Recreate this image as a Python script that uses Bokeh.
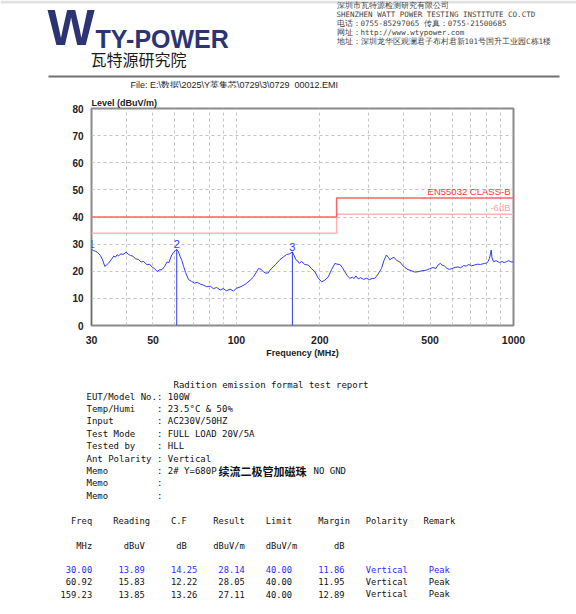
from bokeh.plotting import figure
from bokeh.models import Label, FixedTicker, BoxAnnotation
from bokeh.core.properties import value
from bokeh.embed import file_html
from bokeh.resources import INLINE

# ---------------- data ----------------
freq_mhz = [
    30.0, 30.5, 31.0, 31.6, 32.3, 32.9, 33.5, 34.0, 34.6, 35.3,
    36.1, 36.6, 37.1, 37.6, 38.3, 39.0, 40.0, 40.7, 41.5, 42.3,
    43.2, 44.4, 45.3, 46.2, 47.6, 48.6, 49.7, 50.7, 51.7, 52.8,
    53.9, 55.0, 56.2, 57.1, 58.2, 59.3, 60.3, 60.92, 61.8, 62.7,
    63.6, 64.5, 65.6, 67.2, 68.8, 70.6, 72.2, 74.0, 76.0, 78.2,
    80.5, 82.6, 84.9, 87.4, 89.7, 92.0, 94.9, 97.5, 100.0, 103.2,
    106.5, 109.0, 112.1, 115.0, 118.0, 120.1, 122.5, 125.2, 127.8, 130.4,
    132.2, 134.2, 138.5, 143.7, 147.5, 151.9, 155.5, 159.23, 161.8, 164.1,
    166.5, 168.7, 172.0, 176.5, 181.7, 186.5, 192.1, 197.0, 203.1, 208.5,
    214.5, 220.5, 226.7, 231.0, 236.3, 241.0, 246.3, 251.0, 256.8, 262.0,
    266.0, 270.0, 275.0, 281.0, 288.0, 294.8, 302.0, 309.0, 315.8, 323.0,
    333.8, 341.0, 348.0, 353.0, 358.0, 364.0, 371.0, 379.0, 389.0, 397.0,
    405.0, 416.0, 428.0, 440.0, 452.0, 468.0, 485.0, 498.0, 512.0, 525.0,
    535.0, 545.0, 552.0, 564.0, 576.0, 588.0, 600.0, 615.0, 630.0, 645.0,
    660.0, 675.0, 690.0, 705.0, 724.0, 740.0, 760.0, 786.0, 800.0, 808.0,
    818.0, 826.0, 831.0, 836.0, 847.0, 865.0, 890.0, 910.0, 925.0, 941.0,
    960.0, 980.0, 1000.0,
]
level_dbuv = [
    28.1, 27.6, 27.4, 26.9, 25.8, 24.2, 21.8, 22.3, 23.0, 24.2,
    25.6, 25.2, 26.1, 25.7, 26.4, 26.2, 27.0, 26.3, 25.8, 25.6,
    24.6, 24.3, 23.4, 23.6, 22.4, 22.6, 21.5, 21.0, 19.9, 20.5,
    20.6, 21.7, 23.4, 23.2, 25.6, 27.0, 27.7, 28.05, 27.1, 25.4,
    23.9, 21.8, 19.5, 16.9, 16.3, 15.6, 15.9, 15.3, 14.9, 14.3,
    14.5, 13.6, 14.0, 13.1, 13.6, 12.8, 13.4, 12.7, 13.7, 14.2,
    14.9, 15.6, 16.7, 17.8, 19.6, 21.0, 20.8, 19.8, 19.3, 19.4,
    20.4, 21.1, 22.5, 24.3, 25.2, 26.2, 26.4, 27.11, 25.6, 24.2,
    23.8, 22.9, 23.6, 22.5, 22.3, 21.0, 19.8, 17.6, 16.1, 16.7,
    17.9, 20.6, 22.9, 22.6, 22.5, 21.4, 19.8, 18.4, 17.4, 17.8,
    17.3, 18.3, 17.2, 17.6, 17.0, 17.4, 16.9, 17.3, 17.4, 18.6,
    21.0, 24.0, 26.0, 25.2, 24.2, 24.8, 25.1, 24.0, 23.4, 22.3,
    21.4, 20.6, 20.2, 19.7, 19.8, 20.2, 20.4, 20.9, 21.4, 21.0,
    22.4, 22.9, 22.3, 21.9, 21.0, 20.7, 21.0, 21.4, 21.6, 21.3,
    22.1, 21.9, 22.5, 22.0, 22.3, 22.6, 22.5, 22.9, 23.0, 23.5,
    24.6, 26.4, 27.8, 25.0, 23.5, 23.9, 23.2, 23.6, 23.2, 23.5,
    23.9, 23.4, 23.5,
]
assert len(freq_mhz) == len(level_dbuv)

limit_freq = [30, 230, 230, 1000]
limit_level = [40, 40, 47, 47]
margin_db = 6
limit_name = "EN55032 CLASS-B"
margin_name = "-6dB"

marker_freq = [30.00, 60.92, 159.23]
marker_level = [28.14, 28.05, 27.11]
marker_id = ["1", "2", "3"]

x_ticks = [30, 40, 50, 60, 70, 80, 90, 100, 200, 300, 400, 500, 600, 700, 800, 900, 1000]
x_tick_labels = {30: "30", 50: "50", 100: "100", 200: "200", 500: "500", 1000: "1000"}
y_ticks = [0, 10, 20, 30, 40, 50, 60, 70, 80]

header_lines = [
    "深圳市瓦特源检测研究有限公司",
    "SHENZHEN WATT POWER TESTING INSTITUTE CO.CTD",
    "电话：0755-85297065  传真：0755-21500685",
    "网址：http://www.wtypower.com",
    "地址：深圳龙华区观澜君子布村君新101号国升工业园C栋1楼",
]
file_text = "File: E:\\数据\\2025\\Y英集芯\\0729\\3\\0729_00012.EMI"
report_title = "Radition emission formal test report"
info_labels = ["EUT/Model No.", "Temp/Humi", "Input", "Test Mode", "Tested by",
               "Ant Polarity", "Memo", "Memo", "Memo"]
memo_parts = ["2# Y=680P", "续流二极管加磁珠", "NO GND"]
info_values = ["100W", "23.5°C & 50%", "AC230V/50HZ", "FULL LOAD 20V/5A", "HLL",
               "Vertical", " ".join(memo_parts), "", ""]

t_head = ["Freq", "Reading", "C.F", "Result", "Limit", "Margin", "Polarity", "Remark"]
t_units = ["MHz", "dBuV", "dB", "dBuV/m", "dBuV/m", "dB", "", ""]
t_freq = ["30.00", "60.92", "159.23"]
t_reading = ["13.89", "15.83", "13.85"]
t_cf = ["14.25", "12.22", "13.26"]
t_result = ["28.14", "28.05", "27.11"]
t_limit = ["40.00", "40.00", "40.00"]
t_margin = ["11.86", "11.95", "12.89"]
t_pol = ["Vertical", "Vertical", "Vertical"]
t_remark = ["Peak", "Peak", "Peak"]

# ---------------- styling ----------------
BLUE = "#2f3cf2"
SANS = "Liberation Sans"
MONO = "DejaVu Sans Mono"
W = 576
H_HEAD = 88
H_CHART = 272   # page y 88 .. 360
H_TEXT = 614 - H_HEAD - H_CHART


def blank_fig(height, y_top):
    f = figure(width=W, height=height, x_range=(0, W), y_range=(y_top + height, y_top),
               output_backend="svg", toolbar_location=None,
               x_axis_location=None, y_axis_location=None,
               min_border=0, background_fill_color="white", border_fill_color="white")
    f.grid.visible = False
    f.outline_line_color = None
    return f


def lab(f, x, y, text, size, font=MONO, color="#111111", align="left", baseline="middle", style="normal"):
    f.add_layout(Label(x=x, y=y, text=text, text_font=font, text_font_size=size,
                       text_color=color, text_align=align, text_baseline=baseline,
                       text_font_style=style))


# ---------------- header ----------------
hd = blank_fig(H_HEAD, 0)
hd.add_layout(BoxAnnotation(left=0, right=W, top=0, bottom=3,
                            fill_color="#e2e2e2", fill_alpha=1, line_color=None))
LOGO = "#2c3473"
lab(hd, 47, 27, "W", "50px", font=SANS, color=LOGO, style="bold")
lab(hd, 95, 38, "TY-POWER", "25px", font=SANS, color=LOGO, style="bold")
lab(hd, 90, 58, "瓦特源研究院", "16px", font="Noto Sans CJK SC", color="#1a1a1a")
for i, line in enumerate(header_lines):
    lab(hd, 336, 5 + 9 * i, line, "7.5px", color="#444444")
hd.add_layout(BoxAnnotation(left=48, right=559, top=75, bottom=77,
                            fill_color="#707070", fill_alpha=1, line_color=None))
lab(hd, 130, 84, file_text, "9px", font=SANS, color="#1e1e1e")

# ---------------- chart ----------------
p = figure(width=W, height=H_CHART, x_axis_type="log", x_range=(30, 1000), y_range=(0, 80),
           output_backend="svg", toolbar_location=None,
           min_border_left=91, min_border_right=63, min_border_top=20, min_border_bottom=34,
           background_fill_color="white", border_fill_color="white")

p.title.text = "Level (dBuV/m)"
p.title.align = "left"
p.title.text_font = SANS
p.title.text_font_size = "9px"
p.title.text_font_style = "bold"
p.title.text_color = "#222222"
p.title.standoff = 1
p.title.offset = 0

p.outline_line_color = "#8a8a8a"
p.outline_line_width = 2

for ax in (p.xaxis[0], p.yaxis[0]):
    ax.axis_line_color = None
    ax.major_tick_line_color = None
    ax.minor_tick_line_color = None
    ax.major_label_text_font = SANS
    ax.major_label_text_font_style = "bold"
    ax.major_label_text_color = "#222222"

p.xaxis.ticker = FixedTicker(ticks=x_ticks)
p.xaxis.major_label_overrides = {t: x_tick_labels.get(t, "") for t in x_ticks}
p.xaxis.major_label_text_font_size = "10.5px"
p.xaxis.major_label_standoff = 4
p.xaxis.axis_label = "Frequency (MHz)"
p.xaxis.axis_label_text_font = SANS
p.xaxis.axis_label_text_font_size = "9px"
p.xaxis.axis_label_text_font_style = "bold"
p.xaxis.axis_label_text_color = "#222222"
p.xaxis.axis_label_standoff = 1
p.yaxis.ticker = FixedTicker(ticks=y_ticks)
p.yaxis.major_label_text_font_size = "10px"
p.yaxis.major_label_standoff = 2

p.xgrid.ticker = FixedTicker(ticks=x_ticks)
p.ygrid.ticker = FixedTicker(ticks=y_ticks)
for g in (p.xgrid[0], p.ygrid[0]):
    g.grid_line_color = "#c4c4c4"
    g.grid_line_dash = "3 3"
    g.grid_line_width = 1

p.line(limit_freq, [v - margin_db for v in limit_level], color="#ffb3b3", line_width=1.5)
p.line(limit_freq, limit_level, color="#ff6464", line_width=1.5)
p.line(freq_mhz, level_dbuv, color=BLUE, line_width=1)
p.segment(x0=marker_freq, y0=[0] * len(marker_freq), x1=marker_freq, y1=marker_level,
          color=BLUE, line_width=1)
p.text(x=marker_freq, y=marker_level, text=marker_id, text_align="center",
       text_baseline="bottom", y_offset=-1, text_font_size="11px", text_color=BLUE,
       text_font=value(SANS))

p.add_layout(Label(x=1000, y=limit_level[-1], text=limit_name, x_offset=-3, y_offset=1,
                   text_align="right", text_baseline="bottom", text_font=SANS,
                   text_font_size="9.5px", text_color="#ff3838"))
p.add_layout(Label(x=1000, y=limit_level[-1] - margin_db, text=margin_name, x_offset=-3, y_offset=1,
                   text_align="right", text_baseline="bottom", text_font=SANS,
                   text_font_size="9.5px", text_color="#ffa3a3"))

# ---------------- report text ----------------
tx = blank_fig(H_TEXT, H_HEAD + H_CHART)
lab(tx, 270.5, 384, report_title, "9px", align="center")
cw_info = 5.42
for i, (name, val) in enumerate(zip(info_labels, info_values)):
    y = 396 + 12.4 * i
    lab(tx, 86, y, name, "9px")
    lab(tx, 86 + 13 * cw_info, y, ":", "9px")
    if i == 6:
        lab(tx, 86 + 15 * cw_info, y, memo_parts[0], "9px")
        lab(tx, 218, y, memo_parts[1], "11px", font="Noto Sans CJK SC", style="bold")
        lab(tx, 313, y, memo_parts[2], "9px")
    elif val:
        lab(tx, 86 + 15 * cw_info, y, val, "9px")

x0, cw = 60.1, 5.26
head_pos = [(6, "right"), (10, "left"), (21, "left"), (29, "left"), (39, "left"),
            (49, "left"), (58, "left"), (69, "left")]
unit_pos = [(6, "right"), (16, "right"), (22, "left"), (29, "left"), (39, "left"),
            (54, "right"), (58, "left"), (69, "left")]
row_pos = [(6, "right"), (16, "right"), (26, "right"), (35, "right"), (44, "right"),
           (54, "right"), (58, "left"), (70, "left")]
for txt, (c, a) in zip(t_head, head_pos):
    lab(tx, x0 + c * cw, 520, txt, "8.75px", align=a)
for txt, (c, a) in zip(t_units, unit_pos):
    if txt:
        lab(tx, x0 + c * cw, 545, txt, "8.75px", align=a)
cols = [t_freq, t_reading, t_cf, t_result, t_limit, t_margin, t_pol, t_remark]
for r in range(len(t_freq)):
    color = "#2b2bff" if r == 0 else "#111111"
    y = 569 + 12.4 * r
    for col, (c, a) in zip(cols, row_pos):
        lab(tx, x0 + c * cw, y, col[r], "8.75px", align=a, color=color)

# separate roots, stacked vertically (no frame alignment between them)
open("out.html", "w").write(file_html([hd, p, tx], INLINE))
